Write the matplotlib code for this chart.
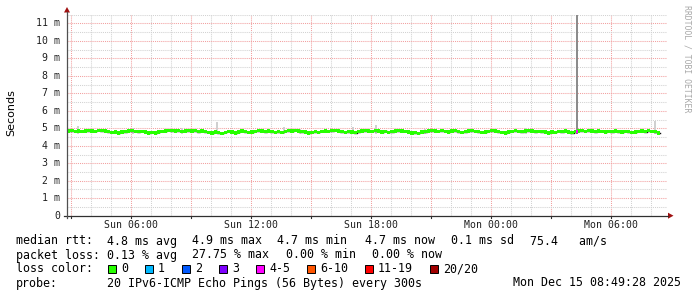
import math
import matplotlib
matplotlib.use('Agg')
import matplotlib.pyplot as plt
from matplotlib.patches import Rectangle, Polygon
from matplotlib.lines import Line2D

W, H, DPI = 697, 297, 100

# ---------------- data ----------------
start_h = 2 + 49 / 60 + 28 / 3600      # Sun 02:49:28 (hours since Sun 00:00)
span_h = 30.0
step_h = 1 / 6                           # one value per 10 min
median_ms = [
    4.84, 4.86, 4.83, 4.85, 4.82, 4.84, 4.87, 4.85, 4.83, 4.88, 4.86, 4.84, 4.80, 4.76, 4.78, 4.74, 4.79, 4.81,
    4.84, 4.86, 4.83, 4.80, 4.82, 4.79, 4.74, 4.77, 4.73, 4.78, 4.82, 4.85, 4.88, 4.86, 4.84, 4.87, 4.83, 4.85,
    4.87, 4.84, 4.86, 4.81, 4.85, 4.80, 4.77, 4.74, 4.79, 4.75, 4.72, 4.77, 4.82, 4.78, 4.74, 4.79, 4.84, 4.81,
    4.76, 4.79, 4.83, 4.87, 4.85, 4.81, 4.84, 4.80, 4.76, 4.80, 4.77, 4.82, 4.86, 4.84, 4.88, 4.85, 4.81, 4.78,
    4.73, 4.77, 4.80, 4.76, 4.82, 4.85, 4.83, 4.86, 4.88, 4.84, 4.80, 4.77, 4.81, 4.79, 4.75, 4.80, 4.84, 4.87,
    4.85, 4.82, 4.86, 4.84, 4.79, 4.82, 4.77, 4.80, 4.84, 4.87, 4.85, 4.82, 4.79, 4.73, 4.75, 4.72, 4.78, 4.81,
    4.84, 4.87, 4.85, 4.82, 4.86, 4.83, 4.79, 4.84, 4.86, 4.81, 4.77, 4.80, 4.84, 4.86, 4.83, 4.80, 4.76, 4.79,
    4.83, 4.87, 4.85, 4.81, 4.77, 4.73, 4.78, 4.82, 4.86, 4.83, 4.80, 4.84, 4.87, 4.84, 4.80, 4.83, 4.81, 4.78,
    4.74, 4.79, 4.76, 4.82, 4.80, 4.84, 4.78, 4.75, 4.80, 4.84, 4.86, 4.83, 4.87, 4.84, 4.81, 4.85, 4.82, 4.79,
    4.82, 4.80, 4.84, 4.81, 4.78, 4.83, 4.80, 4.76, 4.79, 4.82, 4.85, 4.81, 4.86, 4.83, 4.80, 4.74,
]
# occasional smoke (max ping) spikes above the median band
spike_time_h = [3.37, 6.12, 8.57, 10.32, 13.67, 14.47, 17.12, 18.27, 20.72, 25.77, 28.32, 32.22]
spike_max_ms = [5.12, 5.00, 5.02, 5.38, 5.05, 4.98, 5.05, 5.20, 4.98, 5.00, 14.0, 5.40]
# packet loss events (time, lost pings of 20)
loss_time_h = [28.32]
loss_count = [5]

y_ticks_ms = [0, 1, 2, 3, 4, 5, 6, 7, 8, 9, 10, 11]
x_label_h = [6, 12, 18, 24, 30]
x_labels = ['Sun 06:00', 'Sun 12:00', 'Sun 18:00', 'Mon 00:00', 'Mon 06:00']

loss_labels = ['0', '1', '2', '3', '4-5', '6-10', '11-19', '20/20']
loss_colors = ['#26ff00', '#00b8ff', '#0059ff', '#7e00ff', '#ff00ff', '#ff5500', '#ff0000', '#a10000']
loss_upper = [0, 1, 2, 3, 5, 10, 19, 20]

stats_rtt = ['4.8 ms avg', '4.9 ms max', '4.7 ms min', '4.7 ms now', '0.1 ms sd', '75.4   am/s']
stats_loss = ['0.13 % avg', '27.75 % max', '0.00 % min', '0.00 % now']
probe_text = '20 IPv6-ICMP Echo Pings (56 Bytes) every 300s'
stamp_text = 'Mon Dec 15 08:49:28 2025'

# ---------------- layout ----------------
MONO = 'DejaVu Sans Mono'
fig = plt.figure(figsize=(W / DPI, H / DPI), dpi=DPI)
fig.patch.set_facecolor('white')

x0, x1 = 67, 667
y_zero, px_per_ms = 215.7, 17.48
ymax = 11.5
y_top = y_zero - ymax * px_per_ms
ax = fig.add_axes([x0 / W, (H - y_zero) / H, (x1 - x0) / W, (y_zero - y_top) / H])
ax.set_xlim(start_h, start_h + span_h)
ax.set_ylim(0, ymax)
ax.axis('off')

def fx(px):
    return px / W

def fy(py):
    return 1 - py / H

dot = (0, (1, 1))
first = math.ceil(start_h)
last = int(start_h + span_h)
for hh in range(first, last + 1):
    major = hh % 3 == 0
    ax.axvline(hh, color='#f2a0a0' if major else '#d2d2d2', lw=0.75, ls=dot, zorder=0)
for i in range(1, int(ymax * 2) + 1):
    major = i % 2 == 0
    ax.axhline(i * 0.5, color='#f2a0a0' if major else '#d2d2d2', lw=0.75, ls=dot, zorder=0)

# smoke spikes
pp_h = 300 / 3600
for t, m in zip(spike_time_h, spike_max_ms):
    col = '#8c8c8c' if m > ymax else '#d0d0d0'
    ax.add_patch(Rectangle((t - pp_h / 2, 4.7), pp_h, m - 4.7, facecolor=col,
                           edgecolor='none', zorder=1))

# median line + loss-colored band
n = len(median_ms)
t_edges = [start_h + i * step_h for i in range(n + 1)]
vals = median_ms + [median_ms[-1]]
ax.step(t_edges, vals, where='post', color='#101010', lw=1.0, zorder=2)
sw = 0.095
ax.fill_between(t_edges, [v - sw for v in vals], [v + sw for v in vals], step='post',
                color=loss_colors[0], lw=0, zorder=3)
for t, c in zip(loss_time_h, loss_count):
    ci = next(i for i, u in enumerate(loss_upper) if c <= u)
    idx = int((t - start_h) / step_h)
    m = median_ms[idx]
    ax.add_patch(Rectangle((t - pp_h / 2, m - sw), pp_h, 2 * sw, facecolor=loss_colors[ci],
                           edgecolor='none', zorder=4))

# axes lines and arrows
fig.add_artist(Line2D([fx(64), fx(668)], [fy(y_zero), fy(y_zero)], color='#303030', lw=0.9))
fig.add_artist(Line2D([fx(x0), fx(x0)], [fy(218), fy(12)], color='#505050', lw=0.9))
fig.add_artist(Polygon([[fx(x0 - 3), fy(12.5)], [fx(x0 + 3), fy(12.5)], [fx(x0), fy(7)]],
                       closed=True, color='#a01010', lw=0))
fig.add_artist(Polygon([[fx(668), fy(y_zero - 3)], [fx(668), fy(y_zero + 3)], [fx(673.5), fy(y_zero)]],
                       closed=True, color='#a01010', lw=0))
for hh in range(first, last + 1):
    if hh % 3 == 0:
        px = x0 + (hh - start_h) / span_h * (x1 - x0)
        fig.add_artist(Line2D([fx(px), fx(px)], [fy(y_zero), fy(y_zero + 2.5)], color='#303030', lw=0.8))

# tick labels
for v in y_ticks_ms:
    lab = '0' if v == 0 else f'{v} m'
    fig.text(fx(60), fy(y_zero - v * px_per_ms), lab, ha='right', va='center',
             family=MONO, fontsize=7.1, color='#202020')
for hv, lab in zip(x_label_h, x_labels):
    px = x0 + (hv - start_h) / span_h * (x1 - x0)
    fig.text(fx(px), fy(225), lab, ha='center', va='center', family=MONO, fontsize=7.1, color='#202020')

fig.text(fx(11), fy(113), 'Seconds', rotation=90, ha='center', va='center',
         family='DejaVu Sans', fontsize=8, color='black')
fig.text(fx(687), fy(5), 'RRDTOOL / TOBI OETIKER', rotation=-90, ha='center', va='top',
         family=MONO, fontsize=5.9, color='#a8a8a8')

# legend rows
FS = 8.4
rows_y = [241, 255, 269, 283]
fig.text(fx(16), fy(rows_y[0]), 'median rtt:', ha='left', va='center', family=MONO, fontsize=FS)
for s, px in zip(stats_rtt, [107, 192, 277, 365, 451, 530]):
    fig.text(fx(px), fy(rows_y[0]), s, ha='left', va='center', family=MONO, fontsize=FS)
fig.text(fx(16), fy(rows_y[1]), 'packet loss:', ha='left', va='center', family=MONO, fontsize=FS)
for s, px in zip(stats_loss, [107, 192, 286, 372]):
    fig.text(fx(px), fy(rows_y[1]), s, ha='left', va='center', family=MONO, fontsize=FS)
fig.text(fx(16), fy(rows_y[2]), 'loss color:', ha='left', va='center', family=MONO, fontsize=FS)
xs = 108
for lab, col in zip(loss_labels, loss_colors):
    fig.add_artist(Rectangle((fx(xs), fy(rows_y[2] + 4)), 8 / W, 8 / H, facecolor=col,
                             edgecolor='black', lw=0.7, transform=fig.transFigure))
    fig.text(fx(xs + 13), fy(rows_y[2]), lab, ha='left', va='center', family=MONO, fontsize=FS)
    xs += 30 + 7 * len(lab)
fig.text(fx(16), fy(rows_y[3]), 'probe:', ha='left', va='center', family=MONO, fontsize=FS)
fig.text(fx(107), fy(rows_y[3]), probe_text, ha='left', va='center', family=MONO, fontsize=FS)
fig.text(fx(681), fy(rows_y[3]), stamp_text, ha='right', va='center', family=MONO, fontsize=FS)

fig.savefig('out.png', dpi=DPI, facecolor='white')
